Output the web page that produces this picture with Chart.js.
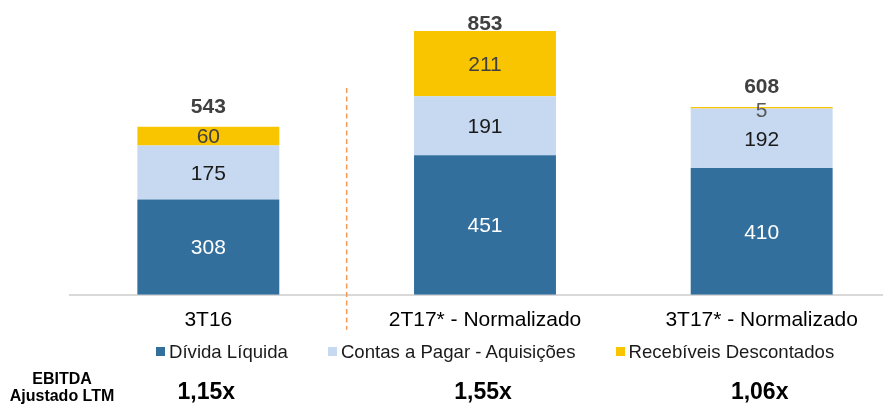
<!DOCTYPE html>
<html>
    <head>
        <meta charset="utf-8">
        <script src="https://cdn.jsdelivr.net/npm/chart.js"></script>
        <title>Dívida</title>
        <style>
            html, body { margin: 0; padding: 0; background: #fff; overflow: hidden; }
            .wrap { position: relative; width: 900px; height: 406px; }
            #legend {
                position: absolute; left: 156px; top: 342px;
                display: flex; align-items: center;
                font: 18.6px 'Liberation Sans', Arial, sans-serif; line-height: 19px;
                color: #1a1a1a; white-space: nowrap;
            }
            #legend .item { display: flex; align-items: center; margin-right: 40px; }
            #legend .box { width: 9px; height: 9px; margin-right: 4px; }
        </style>
    </head>
    <body>
        <div class="wrap">
            <canvas id="myChart" width="900" height="406"></canvas>
            <div id="legend"></div>
        </div>
        <script>
            const categories = ['3T16', '2T17* - Normalizado', '3T17* - Normalizado'];
            const dividaLiquida = [308, 451, 410];
            const contasPagar = [175, 191, 192];
            const recebiveis = [60, 211, 5];
            const totals = [543, 853, 608];
            const ebitdaLabels = ['1,15x', '1,55x', '1,06x'];

            const fontFamily = "'Liberation Sans', Arial, sans-serif";
            const labelColors = ['#ffffff', '#1a1a1a', '#404040'];

            // numbers inside the segments + totals above the stacks
            const valueLabels = {
                id: 'valueLabels',
                afterDatasetsDraw(chart) {
                    const ctx = chart.ctx;
                    ctx.save();
                    ctx.textAlign = 'center';
                    ctx.textBaseline = 'middle';
                    ctx.font = '21px ' + fontFamily;
                    chart.data.datasets.forEach((ds, di) => {
                        const meta = chart.getDatasetMeta(di);
                        meta.data.forEach((bar, i) => {
                            const v = ds.data[i];
                            const mid = (bar.y + bar.base) / 2;
                            ctx.fillStyle = (di === 2 && v < 20) ? '#595959' : labelColors[di];
                            ctx.fillText(v, bar.x, mid + (v < 20 ? 3 : 1.5));
                        });
                    });
                    const yScale = chart.scales.y;
                    const xScale = chart.scales.x;
                    ctx.font = 'bold 21px ' + fontFamily;
                    ctx.fillStyle = '#404040';
                    totals.forEach((t, i) => {
                        const top = yScale.getPixelForValue(t);
                        ctx.fillText(t, xScale.getPixelForValue(i), Math.max(top - 20, 24));
                    });
                    ctx.restore();
                }
            };

            // dashed separator + EBITDA row
            const extras = {
                id: 'extras',
                afterDraw(chart) {
                    const ctx = chart.ctx;
                    const xScale = chart.scales.x;
                    const area = chart.chartArea;
                    ctx.save();
                    const sepX = (xScale.getPixelForValue(0) + xScale.getPixelForValue(1)) / 2;
                    ctx.strokeStyle = '#f59a55';
                    ctx.lineWidth = 1.5;
                    ctx.setLineDash([5, 3.5]);
                    ctx.beginPath();
                    ctx.moveTo(sepX, 88);
                    ctx.lineTo(sepX, area.bottom + 35);
                    ctx.stroke();
                    ctx.setLineDash([]);

                    ctx.textAlign = 'center';
                    ctx.textBaseline = 'middle';
                    ctx.fillStyle = '#000';
                    ctx.font = 'bold 16px ' + fontFamily;
                    ctx.fillText('EBITDA', 62, 380);
                    ctx.fillText('Ajustado LTM', 62, 397);
                    ctx.font = 'bold 23px ' + fontFamily;
                    ebitdaLabels.forEach((t, i) => {
                        ctx.fillText(t, xScale.getPixelForValue(i) - 2, 393);
                    });
                    ctx.restore();
                }
            };

            let myChart = document.getElementById('myChart').getContext('2d');
            let thisChart = new Chart(myChart, {
                type: 'bar',
                data: {
                    labels: categories,
                    datasets: [{
                        label: 'Dívida Líquida',
                        data: dividaLiquida,
                        backgroundColor: '#336f9d'
                    },
                    {
                        label: 'Contas a Pagar - Aquisições',
                        data: contasPagar,
                        backgroundColor: '#c6d9f0'
                    },
                    {
                        label: 'Recebíveis Descontados',
                        data: recebiveis,
                        backgroundColor: '#f9c400'
                    }]
                },
                options: {
                    responsive: false,
                    animation: false,
                    layout: {
                        padding: { left: 70, right: 0, top: 1, bottom: 60 }
                    },
                    datasets: {
                        bar: { barPercentage: 0.513, categoryPercentage: 1 }
                    },
                    plugins: {
                        legend: { display: false },
                        tooltip: { enabled: false }
                    },
                    scales: {
                        x: {
                            stacked: true,
                            grid: { color: 'transparent', drawTicks: false },
                            border: { display: true, color: '#d9d9d9', width: 2 },
                            ticks: {
                                padding: 13,
                                color: '#000',
                                font: { family: fontFamily, size: 21 }
                            }
                        },
                        y: {
                            stacked: true,
                            display: false,
                            min: 0,
                            max: 950
                        }
                    }
                },
                plugins: [valueLabels, extras]
            });

            // html legend built from the datasets
            const legendEl = document.getElementById('legend');
            thisChart.data.datasets.forEach(ds => {
                const item = document.createElement('div');
                item.className = 'item';
                const box = document.createElement('span');
                box.className = 'box';
                box.style.background = ds.backgroundColor;
                const txt = document.createElement('span');
                txt.textContent = ds.label;
                item.appendChild(box);
                item.appendChild(txt);
                legendEl.appendChild(item);
            });
        </script>
    </body>
</html>
